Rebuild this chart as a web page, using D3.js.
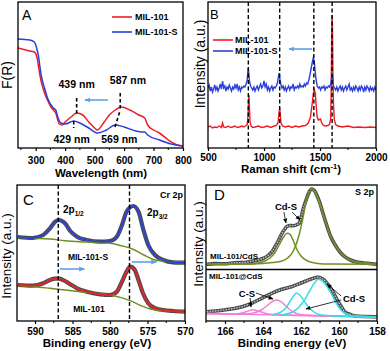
<!DOCTYPE html>
<html>
<head>
<meta charset="utf-8">
<script src="https://cdn.jsdelivr.net/npm/d3@7/dist/d3.min.js"></script>
<style>
  body { margin: 0; background: #fff; }
  svg { font-family: Arial, "Liberation Sans", sans-serif; }
</style>
</head>
<body>
<svg id="fig" width="390" height="351"></svg>
<script>
// ---- panel A : Kubelka-Munk spectra, [wavelength nm, F(R)] ----
const aRed = [[240,100],[280,97],[295,96],[305,90],[310,81],[315,72],[320,65],[330,55],[340,48],[350,42],[360,38],[368,35],[375,28],[380,24],[390,23],[400,26],[420,31],[439,35],[460,33],[480,26],[500,20],[510,18],[530,25],[550,33],[570,38],[590,41],[620,38],[650,33],[670,30],[680,23],[700,18],[720,15],[750,8],[780,3],[800,2]];
const aBlue = [[240,109],[280,108],[295,106],[305,98],[310,91],[315,80],[320,71],[330,60],[340,50],[360,40],[368,38],[375,31],[385,25],[400,24],[429,27],[450,25],[480,20],[510,15],[540,18],[569,23],[600,21],[640,17],[660,16],[670,16],[680,13],[720,8],[760,4],[800,2]];
const aTicks = [300, 400, 500, 600, 700, 800];
const aMinor = [250, 350, 450, 550, 650, 750];

// ---- panel B : Raman, [shift cm-1, intensity] ----
const bRed = [[500,21],[520,22],[540,20],[560,21],[580,20.5],[600,22],[620,20.5],[630,25],[640,21],[660,20.5],[680,22],[700,20.5],[720,21],[740,22],[760,20.5],[780,21],[800,22],[820,21],[840,22.5],[850,23.5],[857,32],[862,48],[866,53],[870,41],[875,26],[885,22],[900,20.5],[920,21],[950,22],[980,20.5],[1000,21],[1030,22],[1060,20.5],[1090,22],[1110,22.5],[1125,25],[1133,34],[1140,40],[1146,32],[1152,25],[1165,22],[1190,21],[1220,22],[1250,20.5],[1280,22],[1310,21],[1340,22],[1370,22.5],[1395,25],[1415,31],[1430,44],[1440,54],[1450,58],[1458,55],[1466,42],[1475,31],[1485,28],[1495,28.5],[1505,29],[1515,25],[1530,22.5],[1550,22],[1570,22.5],[1585,23.5],[1595,29],[1600,55],[1604,110],[1607,133],[1611,122],[1615,80],[1620,45],[1628,28],[1640,23.5],[1660,22],[1700,21],[1750,22],[1800,20.5],[1850,21],[1900,20.5],[1950,21],[2000,20.5]];
const bBlue = [[500,60],[510,63],[520,57],[530,61],[540,56],[550,59],[560,63],[570,58],[580,61],[590,57],[600,60],[610,64],[620,59],[630,67],[640,60],[650,62],[660,57],[670,61],[680,59],[690,63],[700,60],[710,57],[720,61],[730,59],[740,63],[750,60],[760,64],[770,58],[780,61],[790,57],[800,61],[810,60],[820,62],[830,61],[840,64],[850,68],[855,75],[860,80],[865,74],[870,67],[880,62],[890,60],[900,58],[910,61],[920,57],[930,60],[940,62],[950,58],[960,61],[970,64],[980,60],[990,62],[1000,67],[1010,61],[1020,64],[1030,58],[1040,61],[1050,57],[1060,60],[1070,62],[1080,58],[1090,61],[1100,60],[1110,62],[1120,65],[1130,72],[1135,75],[1140,70],[1150,64],[1160,60],[1170,62],[1180,58],[1190,61],[1200,57],[1210,60],[1220,62],[1230,58],[1240,61],[1250,60],[1260,64],[1270,58],[1280,61],[1290,60],[1300,62],[1310,60],[1320,64],[1330,61],[1340,62],[1350,61],[1360,64],[1370,62],[1380,65],[1390,64],[1400,68],[1410,73],[1420,79],[1430,85],[1440,90],[1448,87],[1455,79],[1465,68],[1475,62],[1485,60],[1495,61],[1505,58],[1515,61],[1525,60],[1535,62],[1545,58],[1555,61],[1565,60],[1575,62],[1585,61],[1595,64],[1602,68],[1608,73],[1614,68],[1620,62],[1630,60],[1640,58],[1650,61],[1660,57],[1670,60],[1680,62],[1690,58],[1700,61],[1710,57],[1720,60],[1730,62],[1740,58],[1750,61],[1760,64],[1770,58],[1780,60],[1790,57],[1800,61],[1810,58],[1820,62],[1830,60],[1840,57],[1850,61],[1860,58],[1870,62],[1880,60],[1890,56],[1900,61],[1910,58],[1920,62],[1930,60],[1940,57],[1950,61],[1960,58],[1970,60],[1980,57],[1990,61],[2000,58]];
const bModes = [860, 1140, 1445, 1608];
const bTicks = [500, 1000, 1500, 2000];
const bMinor = [750, 1250, 1750];

// ---- panel C : Cr 2p XPS, [binding energy eV, intensity] ----
const cUpperFit = [[592.3,84],[590.3,83],[588.9,86],[588,92.7],[587.3,99.3],[586.8,101],[586,97.7],[585.3,90],[584.4,84.3],[583.1,81],[581.3,79.3],[580,80],[579.1,84.3],[578.4,96],[577.8,109.3],[576.9,115],[576.2,109.3],[575.6,92.7],[574.9,76],[574,66],[572.9,61],[571.6,58.7],[570,58.3]];
const cUpperBg = [[592.3,83.3],[590,82.7],[588,82],[586,80.3],[584,79.3],[582,78.7],[580,77.7],[578.5,75.3],[577,72],[575.5,66],[574,61],[572,59.3],[570,58.7]];
const cLowerFit = [[592.3,36],[590.3,35.3],[588.9,37.7],[588,41],[587.3,42.3],[586.8,42.3],[586,40],[585.3,36.7],[584.4,32.7],[583.1,29.3],[581.3,26.7],[580,26],[579.1,29.3],[578.4,39.3],[577.8,49.3],[577.3,54.3],[576.7,51],[576.2,41],[575.6,27.7],[574.9,17.7],[574,12.7],[572.9,11],[571.6,10],[570,9.3]];
const cLowerBg = [[592.3,35.3],[590,34.3],[588,32.7],[586,31],[584,29.3],[582,27.7],[580,26],[578.5,23.3],[577,19.3],[575.5,14.3],[574,11],[572,10],[570,9.3]];
const cLines = [586.9, 577.4];
const cTicks = [590, 585, 580, 575, 570];
const cMinor = [587.5, 582.5, 577.5, 572.5];

// ---- panel D : S 2p XPS, [binding energy eV, intensity] ----
const dUpperData = [[166.96,56.7],[166.5,57.4],[166,57.2],[165.5,58.2],[165,58.5],[164.6,59.8],[164.25,61],[164,62.5],[163.7,66],[163.5,70],[163.37,74.3],[163.2,80],[163,87.7],[162.85,92],[162.75,94.3],[162.6,95.5],[162.4,95.3],[162.2,96.5],[162.1,97.7],[162,103],[161.9,111],[161.75,120],[161.6,127.7],[161.45,132],[161.3,130.5],[161.15,125],[161,117.7],[160.85,108],[160.65,96],[160.45,85],[160.2,76],[159.95,69],[159.7,64.3],[159.4,61],[159,58.7],[158.5,57.8],[158,56.7]];
const dUpperComp1 = [[167,56.7],[164.8,57],[164.3,58],[163.9,60],[163.6,63.5],[163.35,69],[163.15,76],[162.95,83],[162.8,87],[162.7,87.7],[162.55,86],[162.4,80],[162.2,71],[162,65],[161.75,61],[161.4,58.5],[161,57.3],[160.5,57],[158,56.7]];
const dUpperComp2 = [[167,56.7],[164.5,57],[164,57.5],[163.5,58.5],[163,60],[162.7,63],[162.4,70],[162.1,86],[161.9,103],[161.7,122],[161.55,130],[161.45,132],[161.3,130],[161.15,124],[161,116],[160.85,107],[160.65,96],[160.45,85],[160.2,76],[159.95,69],[159.7,64.3],[159.4,61],[159,58.7],[158.5,57.5],[158,56.7]];
const dLowerData = [[166.96,9.3],[166.5,10],[165.8,11.7],[165.1,14.3],[164.6,17.7],[164.07,22.7],[163.54,27.7],[163,31.7],[162.5,34.3],[161.96,38.3],[161.5,41.7],[161.1,43.7],[160.9,42.5],[160.74,40.3],[160.55,36],[160.4,31.7],[160.2,25],[160.04,19.3],[159.85,13.5],[159.7,9.3],[159.4,6.5],[159.16,5],[158.6,4.5],[158,4.3]];
const dPinkBase = [[167,7.5],[165,6.8],[163,6],[161,5.2],[159,4.5],[158,4.2]];
const dPink1 = [[167,7.4],[165.5,7],[165.1,8],[164.8,9.8],[164.55,11.3],[164.35,10.6],[164.1,9],[163.8,7.2],[163.4,6.3],[161,5.2],[158,4.2]];
const dPink2 = [[167,7.5],[164.8,7],[164.4,8.5],[164.1,11],[163.8,15],[163.55,19],[163.3,21],[163.1,19.8],[162.85,16],[162.6,11.5],[162.3,8],[162,6.3],[160,4.8],[158,4.2]];
const dCyan1 = [[163.5,6.3],[163.1,8.5],[162.8,13],[162.55,20.5],[162.35,26],[162.25,27.7],[162.1,26.5],[161.9,22],[161.65,15],[161.35,9.5],[161,6.2],[160,4.8],[158,4.2]];
const dCyan2 = [[163,6.2],[162.5,8.5],[162.1,14],[161.8,21.5],[161.5,31.5],[161.25,39],[161.1,41.7],[160.9,40.5],[160.65,35],[160.4,27],[160.15,18],[159.9,11],[159.6,6.8],[159.2,5],[158,4.2]];
const dTicks = [166, 164, 162, 160, 158];
const dMinor = [167, 165, 163, 161, 159];

const RED = "#ee1c25", BLUE = "#2b3fd9", ARROW = "#5ea3e8";
const OLIVE = "#6f8f1f", PINK = "#f27fd8", CYAN = "#36dbe9";

const svg = d3.select("#fig");
const defs = svg.append("defs");
function marker(id, color, size) {
    defs.append("marker").attr("id", id).attr("viewBox", "0 0 10 10")
        .attr("refX", 9).attr("refY", 5).attr("markerWidth", size).attr("markerHeight", size)
        .attr("orient", "auto").attr("markerUnits", "userSpaceOnUse")
        .append("path").attr("d", "M0,1 L10,5 L0,9 Z").attr("fill", color);
}
marker("headBlue", ARROW, 6);
marker("headBlack", "#000", 5);

let clipCount = 0;
function makePanel(o) {
    const x = d3.scaleLinear().domain(o.xDomain).range([o.left, o.right]);
    const y = d3.scaleLinear().domain(o.yDomain).range([o.bottom, o.top]);
    const g = svg.append("g");
    const id = "clip" + (clipCount++);
    defs.append("clipPath").attr("id", id).append("rect")
        .attr("x", o.left).attr("y", o.top).attr("width", o.right - o.left).attr("height", o.bottom - o.top);
    const plot = g.append("g").attr("clip-path", `url(#${id})`);

    const axis = d3.axisBottom(x).tickValues(o.ticks).tickSize(3).tickPadding(o.pad).tickFormat(d3.format("d"));
    const ag = g.append("g").attr("transform", `translate(0,${o.bottom})`).call(axis);
    ag.select(".domain").remove();
    ag.selectAll("line").attr("stroke-width", 1.2);
    ag.selectAll("text").attr("font-size", 10).attr("font-weight", "bold").attr("fill", "#000")
        .attr("font-family", "Arial, 'Liberation Sans', sans-serif");
    g.append("g").selectAll("line").data(o.minor).join("line")
        .attr("x1", d => x(d)).attr("x2", d => x(d))
        .attr("y1", o.bottom).attr("y2", o.bottom + 2).attr("stroke", "#000");

    if (o.xLabel) {
        g.append("text").attr("x", o.xLabelX).attr("y", o.xLabelY).attr("text-anchor", "middle")
            .attr("font-size", 11.5).attr("font-weight", "bold").text(o.xLabel);
    }
    g.append("text").attr("transform", `translate(${o.yLabelX},${o.yLabelY}) rotate(-90)`)
        .attr("text-anchor", "middle").attr("font-size", o.yLabelSize).text(o.yLabel);
    g.append("text").attr("x", o.left + o.tagDx).attr("y", o.top + o.tagDy)
        .attr("font-size", o.tagSize).text(o.tag);

    const frame = () => g.append("rect").attr("x", o.left).attr("y", o.top)
        .attr("width", o.right - o.left).attr("height", o.bottom - o.top)
        .attr("fill", "none").attr("stroke", "#000").attr("stroke-width", 1.3);
    return { g, plot, x, y, frame };
}

function line(p, curve) {
    return d3.line().x(d => p.x(d[0])).y(d => p.y(d[1])).curve(curve || d3.curveLinear);
}
function arrow(p, layer, x1, y1, x2, y2, color, head, w) {
    layer.append("line").attr("x1", p.x(x1)).attr("y1", p.y(y1)).attr("x2", p.x(x2)).attr("y2", p.y(y2))
        .attr("stroke", color).attr("stroke-width", w).attr("marker-end", `url(#${head})`);
}
function dataBand(p, data, curve, w) {
    p.plot.append("path").datum(data).attr("fill", "none").attr("stroke", "#4a4a4a")
        .attr("stroke-width", w).attr("d", line(p, curve));
    p.plot.append("path").datum(data).attr("fill", "none").attr("stroke", "#c4c4c4")
        .attr("stroke-width", 1.4).attr("stroke-dasharray", "1.5,1.2").attr("d", line(p, curve));
}

// ================= Panel A =================
const A = makePanel({
    left: 18, right: 183, top: 2, bottom: 148, xDomain: [240, 800], yDomain: [0, 146],
    ticks: aTicks, minor: aMinor, pad: 5.5,
    xLabel: "Wavelength (nm)", xLabelX: 101, xLabelY: 176.5,
    yLabel: "F(R)", yLabelX: 12, yLabelY: 75, yLabelSize: 14,
    tag: "A", tagDx: 4, tagDy: 18, tagSize: 14
});
A.plot.append("path").datum(aRed).attr("fill", "none").attr("stroke", RED).attr("stroke-width", 1.5)
    .attr("d", line(A, d3.curveMonotoneX));
A.plot.append("path").datum(aBlue).attr("fill", "none").attr("stroke", BLUE).attr("stroke-width", 1.5)
    .attr("d", line(A, d3.curveMonotoneX));
const aDash = { stroke: "#000", "stroke-width": 1.6, "stroke-dasharray": "3.5,2.5" };
function dashLine(p, x1, y1, x2, y2, style) {
    const l = p.g.append("line").attr("x1", p.x(x1)).attr("y1", p.y(y1)).attr("x2", p.x(x2)).attr("y2", p.y(y2));
    Object.entries(style).forEach(([k, v]) => l.attr(k, v));
}
dashLine(A, 439, 50, 439, 33, aDash);
dashLine(A, 587, 55, 587, 38, aDash);
dashLine(A, 429, 27, 429, 20, aDash);
dashLine(A, 569, 21, 585, 36, aDash);
const aNotes = [["439 nm", 439, 60], ["587 nm", 613, 64], ["429 nm", 422, 5], ["569 nm", 584, 5]];
A.g.selectAll(".note").data(aNotes).join("text").attr("x", d => A.x(d[1])).attr("y", d => A.y(d[2]))
    .attr("text-anchor", "middle").attr("font-size", 10.5).attr("font-weight", "bold").text(d => d[0]);
arrow(A, A.g, 545, 48, 467, 48, ARROW, "headBlue", 1.6);
const legA = [["MIL-101", RED, 17], ["MIL-101-S", BLUE, 32]];
legA.forEach(([name, c, yy]) => {
    A.g.append("line").attr("x1", 112).attr("x2", 132).attr("y1", yy).attr("y2", yy).attr("stroke", c).attr("stroke-width", 1.6);
    A.g.append("text").attr("x", 135).attr("y", yy + 3).attr("font-size", 9).attr("font-weight", "bold").text(name);
});
A.frame();

// ================= Panel B =================
const B = makePanel({
    left: 208, right: 376, top: 2, bottom: 148, xDomain: [500, 2000], yDomain: [0, 146],
    ticks: bTicks, minor: bMinor, pad: 3,
    xLabel: "", xLabelX: 291, xLabelY: 172,
    yLabel: "Intensity (a.u.)", yLabelX: 205, yLabelY: 64, yLabelSize: 14,
    tag: "B", tagDx: 2, tagDy: 17, tagSize: 13
});
const bLabel = B.g.append("text").attr("x", 291).attr("y", 172.5).attr("text-anchor", "middle")
    .attr("font-size", 11.5).attr("font-weight", "bold");
bLabel.append("tspan").text("Raman shift (cm");
bLabel.append("tspan").attr("dy", -4).attr("font-size", 7.5).text("-1");
bLabel.append("tspan").attr("dy", 4).text(")");
B.plot.append("path").datum(bRed).attr("fill", "none").attr("stroke", RED).attr("stroke-width", 1.4).attr("d", line(B));
B.plot.append("path").datum(bBlue).attr("fill", "none").attr("stroke", BLUE).attr("stroke-width", 1.4).attr("d", line(B));
B.g.selectAll(".mode").data(bModes).join("line")
    .attr("x1", d => B.x(d)).attr("x2", d => B.x(d)).attr("y1", 2).attr("y2", 148)
    .attr("stroke", "#000").attr("stroke-width", 1.4).attr("stroke-dasharray", "4,2.5");
const legB = [["MIL-101", RED, 40], ["MIL-101-S", BLUE, 51]];
legB.forEach(([name, c, yy]) => {
    B.g.append("line").attr("x1", 213).attr("x2", 233).attr("y1", yy).attr("y2", yy).attr("stroke", c).attr("stroke-width", 1.6);
    B.g.append("text").attr("x", 235).attr("y", yy + 3).attr("font-size", 9).attr("font-weight", "bold").text(name);
});
arrow(B, B.g, 1429, 99, 1223, 99, ARROW, "headBlue", 1.6);
B.frame();

// ================= Panel C =================
const C = makePanel({
    left: 17, right: 185, top: 185, bottom: 321, xDomain: [592.4, 570], yDomain: [0, 136],
    ticks: cTicks, minor: cMinor, pad: 4,
    xLabel: "Binding energy (eV)", xLabelX: 97, xLabelY: 346.5,
    yLabel: "Intensity (a.u.)", yLabelX: 11, yLabelY: 256, yLabelSize: 13.5,
    tag: "C", tagDx: 6, tagDy: 20, tagSize: 15
});
const cSets = [[cUpperBg, cUpperFit, BLUE], [cLowerBg, cLowerFit, RED]];
cSets.forEach(([bg, fit, c]) => {
    dataBand(C, fit, d3.curveMonotoneX, 4.2);
    C.plot.append("path").datum(bg).attr("fill", "none").attr("stroke", OLIVE).attr("stroke-width", 1.4)
        .attr("d", line(C, d3.curveMonotoneX));
    C.plot.append("path").datum(fit).attr("fill", "none").attr("stroke", c).attr("stroke-width", 1.8)
        .attr("d", line(C, d3.curveMonotoneX));
});
C.g.selectAll(".peak").data(cLines).join("line")
    .attr("x1", d => C.x(d)).attr("x2", d => C.x(d)).attr("y1", 185).attr("y2", 321)
    .attr("stroke", "#000").attr("stroke-width", 1.4).attr("stroke-dasharray", "4,2.5");
function subLabel(p, x, yy, main, sub) {
    const t = p.g.append("text").attr("x", x).attr("y", yy).attr("font-size", 10).attr("font-weight", "bold");
    t.append("tspan").text(main);
    t.append("tspan").attr("dy", 2.5).attr("font-size", 6.5).text(sub);
}
subLabel(C, 63, 213, "2p", "1/2");
subLabel(C, 147, 216, "2p", "3/2");
C.g.append("text").attr("x", 183).attr("y", 198).attr("text-anchor", "end")
    .attr("font-size", 9).attr("font-weight", "bold").text("Cr 2p");
C.g.append("text").attr("x", 88).attr("y", 260).attr("text-anchor", "middle")
    .attr("font-size", 8.5).attr("font-weight", "bold").text("MIL-101-S");
C.g.append("text").attr("x", 89).attr("y", 312).attr("text-anchor", "middle")
    .attr("font-size", 8.5).attr("font-weight", "bold").text("MIL-101");
arrow(C, C.g, 586.7, 52, 583.4, 52, ARROW, "headBlue", 1.6);
arrow(C, C.g, 577.1, 59, 573.8, 59, ARROW, "headBlue", 1.6);
C.frame();

// ================= Panel D =================
const D = makePanel({
    left: 206, right: 377, top: 185, bottom: 321, xDomain: [167, 158], yDomain: [0, 136],
    ticks: dTicks, minor: dMinor, pad: 4,
    xLabel: "Binding energy (eV)", xLabelX: 292, xLabelY: 346.5,
    yLabel: "Intensity (a.u.)", yLabelX: 203, yLabelY: 244, yLabelSize: 13.5,
    tag: "D", tagDx: 8, tagDy: 15, tagSize: 15
});
dataBand(D, dUpperData, d3.curveMonotoneX, 3.6);
[dUpperComp1, dUpperComp2].forEach(comp => {
    D.plot.append("path").datum(comp).attr("fill", "none").attr("stroke", OLIVE).attr("stroke-width", 1.5)
        .attr("d", line(D, d3.curveMonotoneX));
});
dataBand(D, dLowerData, d3.curveMonotoneX, 3.6);
[[dPinkBase, PINK], [dPink1, PINK], [dPink2, PINK], [dCyan1, CYAN], [dCyan2, CYAN]].forEach(([comp, c]) => {
    D.plot.append("path").datum(comp).attr("fill", "none").attr("stroke", c).attr("stroke-width", 1.5)
        .attr("d", line(D, d3.curveMonotoneX));
});
D.g.append("line").attr("x1", 206).attr("x2", 377).attr("y1", D.y(51.5)).attr("y2", D.y(51.5))
    .attr("stroke", "#000").attr("stroke-width", 1.3);
D.g.append("text").attr("x", 374).attr("y", 195).attr("text-anchor", "end")
    .attr("font-size", 9).attr("font-weight", "bold").text("S 2p");
D.g.append("text").attr("x", 210).attr("y", 259).attr("font-size", 8).attr("font-weight", "bold").text("MIL-101/CdS");
D.g.append("text").attr("x", 209).attr("y", 279).attr("font-size", 8).attr("font-weight", "bold").text("MIL-101@CdS");
const dNotes = [["Cd-S", 162.79, 111, "middle"], ["C-S", 164.84, 24, "middle"], ["Cd-S", 159.79, 19, "start"]];
D.g.selectAll(".dnote").data(dNotes).join("text").attr("x", d => D.x(d[1])).attr("y", d => D.y(d[2]))
    .attr("text-anchor", d => d[3]).attr("font-size", 9.5).attr("font-weight", "bold").text(d => d[0]);
const dArrows = [[162.9, 109, 162.79, 98], [162.47, 109, 162.05, 101], [164.68, 23, 164.63, 14],
    [164.37, 28, 163.47, 22], [159.89, 25, 160.63, 37], [159.89, 21, 161.74, 12]];
dArrows.forEach(a => arrow(D, D.g, a[0], a[1], a[2], a[3], "#000", "headBlack", 0.8));
D.frame();
</script>
</body>
</html>
